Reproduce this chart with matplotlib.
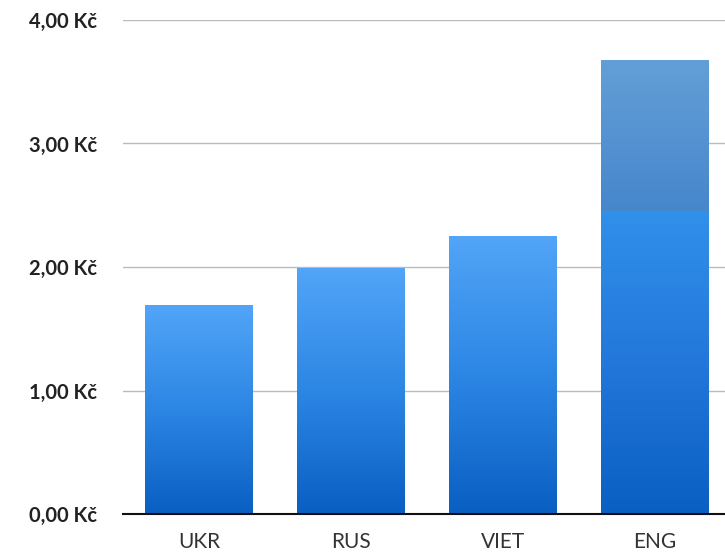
import matplotlib
matplotlib.use("Agg")
import matplotlib.pyplot as plt
import numpy as np
from matplotlib.colors import LinearSegmentedColormap

categories = ["UKR", "RUS", "VIET", "ENG"]
base_values = [1.69, 1.99, 2.25, 2.45]
extra_values = [0, 0, 0, 1.23]
yticks = [0, 1, 2, 3, 4]
ytick_labels = ["0,00 Kč", "1,00 Kč", "2,00 Kč", "3,00 Kč", "4,00 Kč"]

plt.rcParams['font.family'] = ['Lato', 'DejaVu Sans']

fig = plt.figure(figsize=(7.25, 5.54), dpi=100)
ax = fig.add_axes([0.1697, 0.0722, 0.8303, 0.8917])

grad = LinearSegmentedColormap.from_list("g", ["#0a5fc2", "#2c86e4", "#52a5f7"])
eng_grad = LinearSegmentedColormap.from_list("e", ["#0a5fc2", "#2377da", "#3090ea"])
top_grad = LinearSegmentedColormap.from_list("t", ["#4686cb", "#5593d2", "#639fd6"])
width = 0.71
img = np.linspace(0, 1, 256).reshape(-1, 1)

for i, cat in enumerate(categories):
    h = base_values[i]
    bar = ax.bar(i, h, width=width, color="none", zorder=3)[0]
    cm = eng_grad if extra_values[i] > 0 else grad
    im = ax.imshow(img, cmap=cm, aspect="auto", origin="lower",
                   extent=[i - width / 2, i + width / 2, 0, h], zorder=3)
    im.set_clip_path(bar)
    if extra_values[i] > 0:
        bar2 = ax.bar(i, extra_values[i], bottom=h, width=width, color="none", zorder=3)[0]
        im2 = ax.imshow(img, cmap=top_grad, aspect="auto", origin="lower",
                        extent=[i - width / 2, i + width / 2, h, h + extra_values[i]], zorder=3)
        im2.set_clip_path(bar2)

ax.set_xlim(-0.5, 3.46)
ax.set_ylim(0, 4)
ax.set_yticks(yticks)
ax.set_yticklabels(ytick_labels, fontsize=14.5, fontweight="bold", color="#222222")
ax.set_xticks(range(len(categories)))
ax.set_xticklabels(categories, fontsize=15, color="#333333")
ax.tick_params(axis="y", length=0, pad=19)
ax.tick_params(axis="x", length=0, pad=13)
ax.grid(axis="y", color="#bbbbbb", linewidth=1, zorder=0)
ax.set_axisbelow(True)
for s in ["top", "right", "left"]:
    ax.spines[s].set_visible(False)
ax.spines["bottom"].set_color("#111111")
ax.spines["bottom"].set_linewidth(1.5)
ax.spines["bottom"].set_zorder(4)

fig.savefig("out.png", dpi=100)
